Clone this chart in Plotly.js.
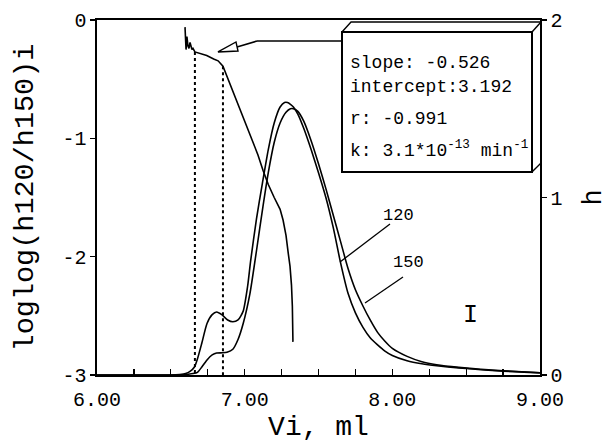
<!DOCTYPE html>
<html><head><meta charset="utf-8">
<script src="https://cdn.plot.ly/plotly-3.0.1.min.js"></script>
<style>html,body{margin:0;padding:0;background:#fff}#chart{width:610px;height:443px}</style>
</head><body><div id="chart"></div>
<script>
// ---- data ----
const x120 = [6.00,6.50,6.56,6.60,6.63,6.66,6.68,6.71,6.745,6.78,6.81,6.845,6.885,6.92,6.955,6.99,7.02,7.04,7.08,7.12,7.16,7.20,7.24,7.27,7.29,7.31,7.33,7.36,7.40,7.45,7.50,7.55,7.60,7.65,7.70,7.75,7.80,7.85,7.90,7.95,8.00,8.10,8.20,8.30,8.45,8.60,8.75,9.00];
const h120 = [0,0,0.003,0.008,0.02,0.045,0.09,0.18,0.29,0.34,0.355,0.34,0.31,0.30,0.31,0.36,0.50,0.64,0.88,1.08,1.27,1.42,1.51,1.535,1.535,1.525,1.51,1.47,1.39,1.27,1.14,1.00,0.83,0.63,0.46,0.35,0.27,0.21,0.17,0.135,0.11,0.08,0.063,0.052,0.04,0.03,0.022,0.012];

const x150 = [6.00,6.50,6.60,6.65,6.68,6.71,6.745,6.78,6.81,6.85,6.88,6.92,6.955,6.99,7.036,7.08,7.124,7.16,7.20,7.24,7.28,7.31,7.33,7.36,7.40,7.45,7.50,7.55,7.60,7.65,7.70,7.75,7.80,7.85,7.90,7.95,8.00,8.10,8.20,8.30,8.45,8.60,8.75,9.00];
const h150 = [0,0,0.003,0.008,0.015,0.045,0.085,0.113,0.124,0.125,0.128,0.145,0.20,0.29,0.46,0.70,0.95,1.14,1.31,1.42,1.48,1.50,1.50,1.485,1.43,1.32,1.19,1.05,0.90,0.75,0.60,0.48,0.39,0.31,0.24,0.19,0.15,0.105,0.075,0.058,0.043,0.032,0.024,0.013];

const xLog = [6.596,6.603,6.609,6.616,6.623,6.630,6.643,6.650,6.663,6.70,6.743,6.79,6.82,6.853,6.887,6.92,6.948,6.98,7.016,7.05,7.09,7.124,7.16,7.20,7.24,7.26,7.28,7.295,7.307,7.317,7.323,7.327];
const yLog = [-0.06,-0.25,-0.14,-0.22,-0.24,-0.19,-0.25,-0.24,-0.27,-0.285,-0.30,-0.33,-0.345,-0.39,-0.50,-0.60,-0.68,-0.79,-0.90,-1.01,-1.14,-1.27,-1.39,-1.50,-1.60,-1.69,-1.82,-1.97,-2.08,-2.24,-2.42,-2.72];

const dropX = [6.663, 6.853];
const dropTop = [-0.27, -0.39];
const dropBottom = -3;

const xTickVals = [6, 7, 8, 9];
const xTickText = ["6.00", "7.00", "8.00", "9.00"];
const yTickVals = [-3, -2, -1, 0];
const yTickText = ["-3", "-2", "-1", "0"];
const y2TickVals = [0, 1, 2];
const y2TickText = ["0", "1", "2"];

const boxLines = ["slope: -0.526", "intercept:3.192", "r: -0.991", "k: 3.1*10<sup>-13</sup> min<sup>-1</sup>"];
const seriesLabels = ["120", "150"];
const panelLabel = "I";

// ---- drawing ----
const FONT = "'Liberation Mono', 'Courier New', monospace";
const L = 97, T = 20, W = 443, H = 355;
function P(px, py) { return [(px - L) / W, (T + H - py) / H]; }

const traces = [
  {x: x120, y: h120, yaxis: 'y2', mode: 'lines', name: seriesLabels[0],
   line: {color: '#000', width: 1.6, shape: 'spline', smoothing: 0.6}},
  {x: x150, y: h150, yaxis: 'y2', mode: 'lines', name: seriesLabels[1],
   line: {color: '#000', width: 1.6, shape: 'spline', smoothing: 0.6}},
  {x: xLog, y: yLog, yaxis: 'y', mode: 'lines', name: 'loglog',
   line: {color: '#000', width: 1.6}}
];
dropX.forEach((dx, i) => {
  traces.push({x: [dx, dx], y: [dropTop[i], dropBottom], yaxis: 'y', mode: 'lines',
    line: {color: '#000', width: 2, dash: 'dot'}, showlegend: false});
});

function line(a, b, w) {
  const p = P(a[0], a[1]), q = P(b[0], b[1]);
  return {type: 'line', xref: 'paper', yref: 'paper', x0: p[0], y0: p[1], x1: q[0], y1: q[1],
    line: {color: '#000', width: w || 1.4}, layer: 'above'};
}
function path(pts, close, fill) {
  let d = pts.map((pt, i) => { const p = P(pt[0], pt[1]); return (i ? 'L' : 'M') + p[0].toFixed(4) + ',' + p[1].toFixed(4); }).join(' ');
  if (close) d += ' Z';
  return {type: 'path', xref: 'paper', yref: 'paper', path: d, fillcolor: fill || 'rgba(0,0,0,0)',
    line: {color: '#000', width: 1.4}, layer: 'above'};
}

const b0 = P(342, 172), b1 = P(532, 32);
const shapes = [
  {type: 'rect', xref: 'paper', yref: 'paper', x0: b0[0], y0: b0[1], x1: b1[0], y1: b1[1],
   fillcolor: '#fff', line: {color: '#000', width: 2}, layer: 'above'},
  path([[342, 32], [351, 22], [541, 22], [541, 163], [532, 172]], false),
  line([532, 32], [541, 22], 1.4),
  // arrow from box
  line([342, 41], [257, 41], 1.6),
  line([257, 41], [237, 47], 1.6),
  path([[218, 52], [236, 42], [238, 51]], true, '#fff'),
  // leaders
  line([390, 224], [340, 262], 1.3),
  line([403, 277], [365, 303], 1.3)
];

const annotations = [];
const boxY = [63, 87, 119, 150];
boxLines.forEach((t, i) => {
  const p = P(348, boxY[i]);
  annotations.push({xref: 'paper', yref: 'paper', x: p[0], y: p[1], xanchor: 'left', yanchor: 'middle',
    text: t, showarrow: false, font: {family: FONT, size: 18, color: '#000'}});
});
[[seriesLabels[0], 398, 216, 17], [seriesLabels[1], 408, 262, 17], [panelLabel, 470, 315, 25]].forEach(a => {
  const p = P(a[1], a[2]);
  annotations.push({xref: 'paper', yref: 'paper', x: p[0], y: p[1], xanchor: 'center', yanchor: 'middle',
    text: a[0], showarrow: false, font: {family: FONT, size: a[3], color: '#000'}});
});

const layout = {
  width: 610, height: 443,
  margin: {l: L, r: 610 - L - W, t: T, b: 443 - T - H},
  paper_bgcolor: '#fff', plot_bgcolor: '#fff',
  showlegend: false,
  font: {family: FONT, color: '#000', size: 20},
  xaxis: {
    range: [6, 9], tickvals: xTickVals, ticktext: xTickText,
    ticks: 'inside', ticklen: 6, tickwidth: 1.2, tickcolor: '#000',
    ticklabelstandoff: 5,
    minor: {dtick: 0.25, tick0: 6, ticks: 'inside', ticklen: 6, tickwidth: 1.2, tickcolor: '#000'},
    showline: true, linecolor: '#000', linewidth: 1.6, mirror: true,
    showgrid: false, zeroline: false,
    tickfont: {family: FONT, size: 20, color: '#000'},
    title: {text: 'Vi, ml', font: {family: FONT, size: 28, color: '#000'}, standoff: 10}
  },
  yaxis: {
    range: [-3, 0], tickvals: yTickVals, ticktext: yTickText,
    ticks: 'outside', ticklen: 5, tickwidth: 1.2, tickcolor: '#000',
    showline: true, linecolor: '#000', linewidth: 1.6,
    showgrid: false, zeroline: false,
    tickfont: {family: FONT, size: 20, color: '#000'},
    title: {text: 'loglog(h120/h150)i', font: {family: FONT, size: 28.5, color: '#000'}, standoff: 20}
  },
  yaxis2: {
    range: [0, 2], tickvals: y2TickVals, ticktext: y2TickText,
    overlaying: 'y', side: 'right',
    ticks: 'outside', ticklen: 5, tickwidth: 1.2, tickcolor: '#000',
    showline: true, linecolor: '#000', linewidth: 1.6,
    showgrid: false, zeroline: false,
    tickfont: {family: FONT, size: 20, color: '#000'},
    title: {text: 'h', font: {family: FONT, size: 27, color: '#000'}, standoff: 20}
  },
  shapes: shapes,
  annotations: annotations
};

Plotly.newPlot('chart', traces, layout, {staticPlot: true, displayModeBar: false});
</script>
</body></html>
